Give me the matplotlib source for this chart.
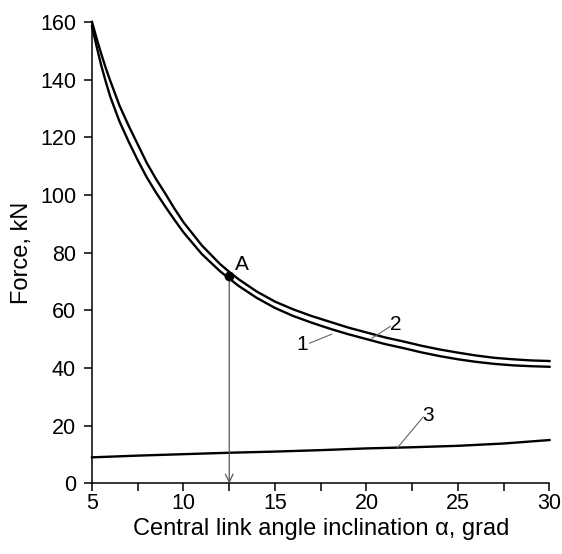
import matplotlib.pyplot as plt
import numpy as np

plt.rcParams['font.family'] = ['Liberation Sans', 'DejaVu Sans']

# Curve 1 (lower) and curve 2 (upper), kN
alpha = [5, 5.25, 5.5, 5.75, 6, 6.5, 7, 7.5, 8, 8.5, 9, 9.5, 10, 11, 12, 12.5,
         13, 14, 15, 16, 17, 18, 19, 20, 21, 22, 23, 24, 25, 26, 27, 28, 29, 30]
force_1 = [158.5, 151.5, 145, 139.3, 134, 125.5, 118.5, 112, 106, 100.8, 96,
           91.4, 87, 79.5, 73.5, 71, 68.5, 64.3, 60.8, 58, 55.7, 53.6, 51.7, 50,
           48.3, 46.9, 45.4, 44.1, 43, 42.1, 41.4, 40.9, 40.6, 40.4]
force_2 = [160, 154.3, 149, 144, 139.5, 131, 124, 117.5, 111, 105.5, 100.5,
           95.3, 90.5, 82.5, 76, 73.3, 70.8, 66.5, 63, 60.3, 58, 56, 54, 52.3,
           50.6, 49.2, 47.7, 46.4, 45.3, 44.3, 43.5, 43, 42.6, 42.4]

# Curve 3
alpha_3 = [5, 7.5, 10, 12.5, 15, 17.5, 20, 22.5, 25, 27.5, 30]
force_3 = [9.0, 9.6, 10.1, 10.6, 11.0, 11.5, 12.1, 12.5, 13.0, 13.8, 15.0]

# Point A
a_x, a_y = 12.5, 72

fig = plt.figure(figsize=(5.62, 5.54), dpi=100)
ax = fig.add_axes([0.1637, 0.1276, 0.814, 0.833])

ax.plot(alpha, force_1, color='black', lw=1.7, clip_on=False)
ax.plot(alpha, force_2, color='black', lw=1.7, clip_on=False)
ax.plot(alpha_3, force_3, color='black', lw=1.7, clip_on=False)

# point A and arrow down to the axis
ax.annotate('', xy=(a_x, 0), xytext=(a_x, a_y),
            arrowprops=dict(arrowstyle='->', color='#555555', lw=0.9,
                            shrinkA=0, shrinkB=0, mutation_scale=14))
ax.plot([a_x], [a_y], 'o', color='black', ms=6, zorder=5)
ax.text(a_x + 0.3, a_y + 0.6, 'A', fontsize=15, ha='left', va='bottom')

# curve labels with leader lines
lbl = dict(color='#666666', lw=0.8)
ax.plot([16.9, 18.1], [48.6, 51.7], **lbl)
ax.text(16.8, 48.0, '1', fontsize=15, ha='right', va='center')
ax.plot([20.3, 21.3], [50.3, 54.4], **lbl)
ax.text(21.3, 55.0, '2', fontsize=15, ha='left', va='center')
ax.plot([21.7, 23.1], [12.4, 23.0], **lbl)
ax.text(23.05, 23.6, '3', fontsize=15, ha='left', va='center')

ax.set_xlim(5, 30)
ax.set_ylim(0, 160)
ax.set_xticks([5, 10, 15, 20, 25, 30])
ax.set_xticks(np.arange(7.5, 30, 5), minor=True)
ax.set_yticks(range(0, 161, 20))

for s in ['top', 'right']:
    ax.spines[s].set_visible(False)
for s in ['left', 'bottom']:
    ax.spines[s].set_linewidth(1.1)

ax.tick_params(axis='both', which='both', direction='out', length=5.5,
               width=1.1, labelsize=15.5)
ax.tick_params(axis='x', which='minor', length=5.5)
ax.tick_params(axis='x', pad=1.5)
ax.tick_params(axis='y', pad=6)

ax.set_xlabel('Central link angle inclination α, grad', fontsize=17, labelpad=3)
ax.set_ylabel('Force, kN', fontsize=17)
ax.yaxis.set_label_coords(-0.128, 0.5)

plt.savefig('out.png', dpi=100)
